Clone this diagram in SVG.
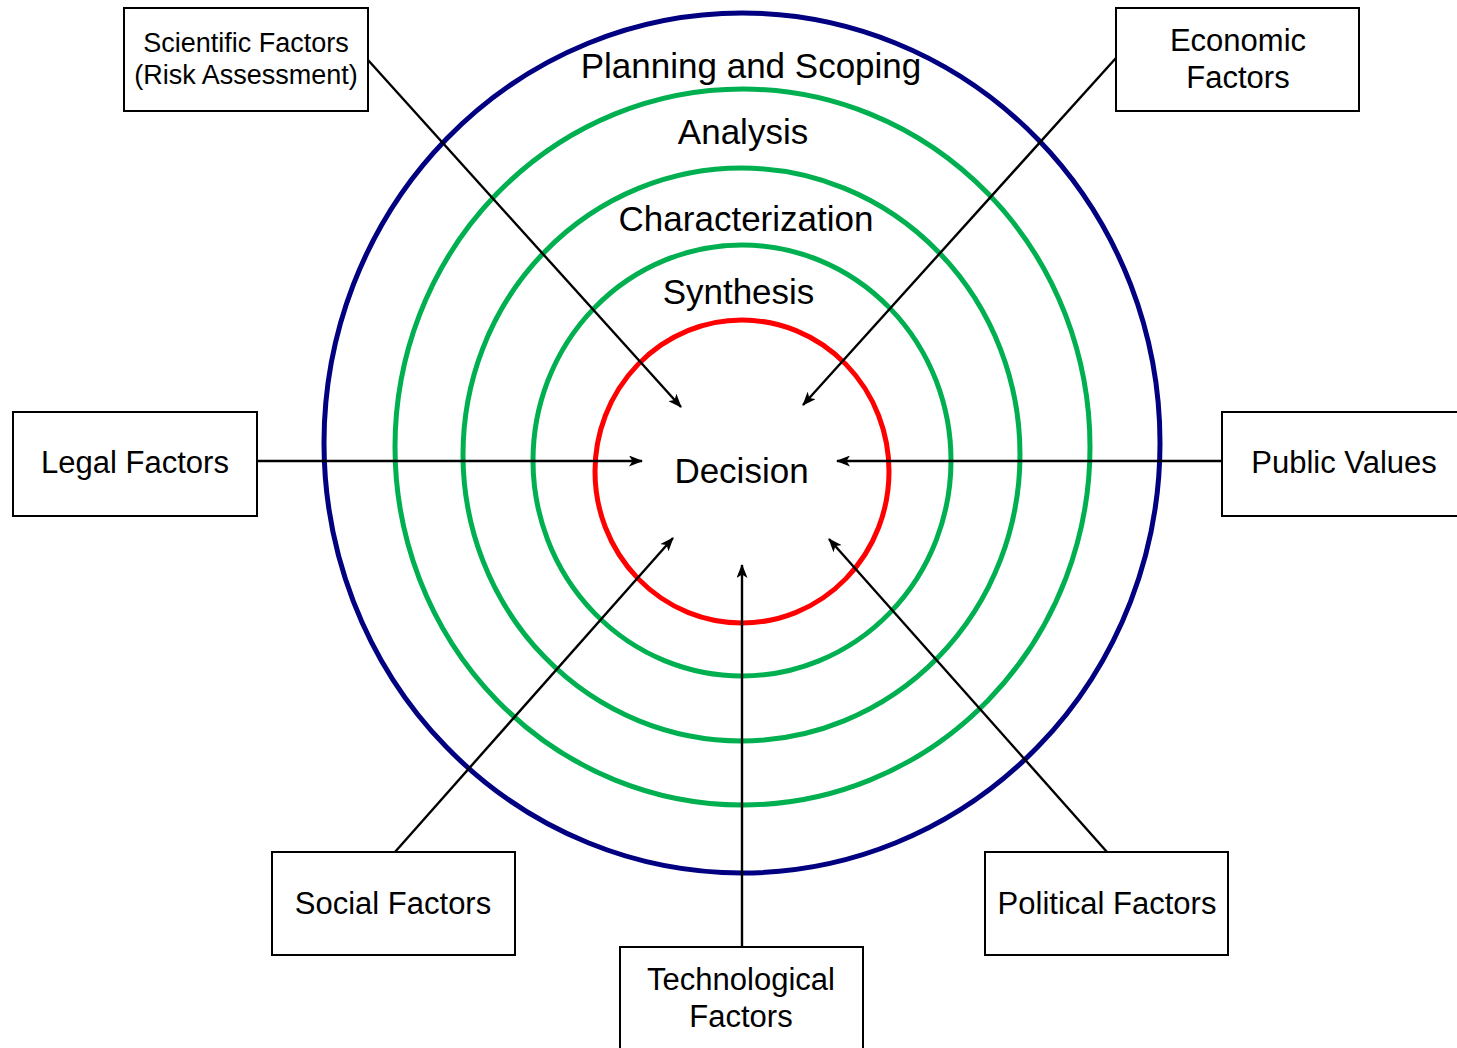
<svg xmlns="http://www.w3.org/2000/svg" width="1457" height="1048" viewBox="0 0 1457 1048">
  <style>
    .ring { fill: none; stroke-width: 5; }
    .box { fill: #fff; stroke: #000; stroke-width: 2; }
    .lbl { font-family: "Liberation Sans", Arial, sans-serif; fill: #000; text-anchor: middle; }
    .stage { font-size: 35px; }
    .fac { font-size: 31px; }
    .sci { font-size: 27px; }
    .link { stroke: #000; stroke-width: 2.4; fill: none; marker-end: url(#head); }
  </style>
  <defs>
    <marker id="head" viewBox="0 0 14 11" refX="13" refY="5.5" markerWidth="14" markerHeight="11" markerUnits="userSpaceOnUse" orient="auto">
      <path d="M0,0 L14,5.5 L0,11 L3.5,5.5 Z" fill="#000"/>
    </marker>
  </defs>
  <rect width="1457" height="1048" fill="#fff"/>

  <!-- nested process rings -->
  <g id="rings">
    <ellipse id="ring-planning" class="ring" cx="742" cy="443" rx="418" ry="430" stroke="#000080"/>
    <ellipse id="ring-analysis" class="ring" cx="742.5" cy="447" rx="347.5" ry="358" stroke="#00B050"/>
    <ellipse id="ring-characterization" class="ring" cx="741.5" cy="454.5" rx="278.5" ry="286.5" stroke="#00B050"/>
    <ellipse id="ring-synthesis" class="ring" cx="742" cy="460.5" rx="209" ry="215.5" stroke="#00B050"/>
    <ellipse id="ring-decision" class="ring" cx="742" cy="471.5" rx="147" ry="151.5" stroke="#FF0000"/>
  </g>

  <g id="stage-labels">
    <text class="lbl stage" x="751" y="78">Planning and Scoping</text>
    <text class="lbl stage" x="743" y="144">Analysis</text>
    <text class="lbl stage" x="746" y="231">Characterization</text>
    <text class="lbl stage" x="738.5" y="304">Synthesis</text>
    <text class="lbl stage" x="741.5" y="483">Decision</text>
  </g>

  <!-- factor arrows pointing at the decision -->
  <g id="connectors">
    <line class="link" x1="368" y1="60" x2="681" y2="407"/>
    <line class="link" x1="1116" y1="58" x2="803" y2="405"/>
    <line class="link" x1="257" y1="461" x2="642" y2="461"/>
    <line class="link" x1="1222" y1="461" x2="837" y2="461"/>
    <line class="link" x1="395" y1="852" x2="673" y2="538"/>
    <line class="link" x1="742" y1="947" x2="742" y2="565"/>
    <line class="link" x1="1107" y1="852" x2="829" y2="539"/>
  </g>

  <g id="scientific">
    <rect class="box" x="124" y="8" width="244" height="103"/>
    <text class="lbl sci" x="246" y="52">Scientific Factors</text>
    <text class="lbl sci" x="246" y="84">(Risk Assessment)</text>
  </g>
  <g id="economic">
    <rect class="box" x="1116" y="8" width="243" height="103"/>
    <text class="lbl fac" x="1238" y="51">Economic</text>
    <text class="lbl fac" x="1238" y="88">Factors</text>
  </g>
  <g id="legal">
    <rect class="box" x="13" y="412" width="244" height="104"/>
    <text class="lbl fac" x="135" y="473">Legal Factors</text>
  </g>
  <g id="public-values">
    <rect class="box" x="1222" y="412" width="245" height="104"/>
    <text class="lbl fac" x="1344" y="473">Public Values</text>
  </g>
  <g id="social">
    <rect class="box" x="272" y="852" width="243" height="103"/>
    <text class="lbl fac" x="393" y="914">Social Factors</text>
  </g>
  <g id="political">
    <rect class="box" x="985" y="852" width="243" height="103"/>
    <text class="lbl fac" x="1107" y="914">Political Factors</text>
  </g>
  <g id="technological">
    <rect class="box" x="620" y="947" width="243" height="110"/>
    <text class="lbl fac" x="741" y="990">Technological</text>
    <text class="lbl fac" x="741" y="1027">Factors</text>
  </g>
</svg>
